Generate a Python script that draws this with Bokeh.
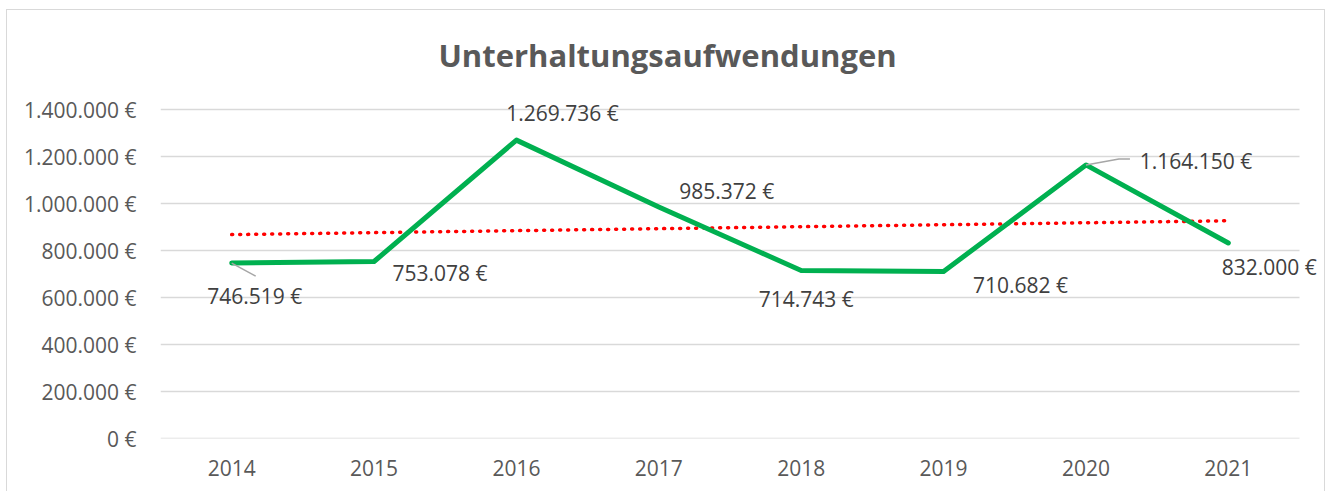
import numpy as np
from bokeh.plotting import figure
from bokeh.models import ColumnDataSource, LabelSet, Label, FixedTicker, Range1d
from bokeh.core.properties import value
from bokeh.embed import file_html
from bokeh.resources import INLINE

# ---- data ----
years = ["2014", "2015", "2016", "2017", "2018", "2019", "2020", "2021"]
costs = [746519, 753078, 1269736, 985372, 714743, 710682, 1164150, 832000]
cost_labels = ["746.519 €", "753.078 €", "1.269.736 €", "985.372 €",
               "714.743 €", "710.682 €", "1.164.150 €", "832.000 €"]
y_ticks = [0, 200000, 400000, 600000, 800000, 1000000, 1200000, 1400000]
y_tick_labels = ["0 €", "200.000 €", "400.000 €", "600.000 €", "800.000 €",
                 "1.000.000 €", "1.200.000 €", "1.400.000 €"]
title_text = "Unterhaltungsaufwendungen"

# label offsets in pixels (style)
lab_dx = [23, 66, 46, 68, 5, 77, 110, 41]
lab_dy = [-33, -11, 27, 16, -28, -14, 4, -24]

FONT = "Open Sans"
W, H = 1319, 482
ML, MR, MT, MB = 153, 0, 0, 54
frame_w = W - ML - MR
frame_h = H - MT - MB
YMAX = 1400000
SPAN_PX = 329            # pixel height of the 0..YMAX span
CAT_PX = 1139 / len(years)  # pixel width of one category
px_y = YMAX / SPAN_PX
px_x = 1 / CAT_PX
XSTART = -0.5
XEND = XSTART + frame_w / CAT_PX
YTOP = frame_h * px_y

xs = list(range(len(years)))
p = figure(width=W, height=H, output_backend="svg", toolbar_location=None,
           x_range=Range1d(XSTART, XEND), y_range=Range1d(0, YTOP),
           min_border_left=ML, min_border_right=MR, min_border_top=MT,
           min_border_bottom=MB, outline_line_color=None)
p.styles = {"margin-left": "6px", "margin-top": "9px",
            "border-top": "1px solid #d9d9d9", "border-left": "1px solid #d9d9d9",
            "border-right": "1px solid #d9d9d9"}
p.background_fill_color = "white"
p.border_fill_color = "white"

# axes
p.xaxis.ticker = FixedTicker(ticks=xs)
p.xaxis.major_label_overrides = {i: y for i, y in enumerate(years)}
p.yaxis.ticker = FixedTicker(ticks=y_ticks)
p.yaxis.major_label_overrides = {t: l for t, l in zip(y_ticks, y_tick_labels)}
for ax in (p.xaxis[0], p.yaxis[0]):
    ax.axis_line_color = None
    ax.major_tick_line_color = None
    ax.minor_tick_line_color = None
    ax.major_label_text_font = FONT
    ax.major_label_text_font_size = "21px"
    ax.major_label_text_color = "#595959"
p.yaxis.major_label_standoff = 18
p.xaxis.major_label_standoff = 15
p.xgrid.grid_line_color = None
p.ygrid.grid_line_color = None

# gridlines spanning the category area only
p.segment(x0=[XSTART] * len(y_ticks), x1=[len(years) - 0.5] * len(y_ticks),
          y0=y_ticks, y1=y_ticks, line_color="#d9d9d9", line_width=1.3)

# trend line (linear regression)
xa = np.array(xs, dtype=float)
ya = np.array(costs, dtype=float)
slope, intercept = np.polyfit(xa, ya, 1)
p.line([xa[0], xa[-1]], [intercept + slope * xa[0], intercept + slope * xa[-1]],
       line_color="#ff0000", line_width=3.5, line_dash="1 7", line_cap="round")

# main line
p.line(xs, costs, line_color="#00b050", line_width=5, line_join="round", line_cap="round")

# leader lines
p.line([xs[0], xs[0] + 24 * px_x], [costs[0], costs[0] - 13 * px_y],
       line_color="#a6a6a6", line_width=1.5)
p.line([xs[6], xs[6] + 33 * px_x, xs[6] + 44 * px_x],
       [costs[6], costs[6] + 6 * px_y, costs[6] + 6 * px_y],
       line_color="#a6a6a6", line_width=1.5)

src = ColumnDataSource(dict(x=xs, y=costs, t=cost_labels, dx=lab_dx, dy=lab_dy))
p.add_layout(LabelSet(x="x", y="y", text="t", source=src, x_offset="dx", y_offset="dy",
                      text_align="center", text_baseline="middle",
                      text_font=value(FONT), text_font_size="21px", text_color="#404040"))

# title
p.add_layout(Label(x=(668 - 161) * px_x + XSTART,
                   y=YMAX + (110 - 55) * px_y, text=title_text, text_align="center",
                   text_baseline="middle", text_font=FONT, text_font_size="31px",
                   text_font_style="bold", text_color="#595959"))

open("out.html", "w").write(file_html(p, INLINE))
